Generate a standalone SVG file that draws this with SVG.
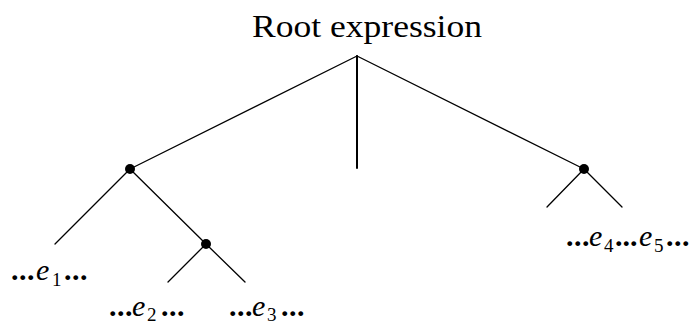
<svg xmlns="http://www.w3.org/2000/svg" width="698" height="324" viewBox="0 0 698 324">
<style>
.t{font-family:"Liberation Serif",serif;fill:#000;font-size:30px}
.d{font-weight:bold}
.e{font-style:italic}
.s{font-size:19px}
.ln{stroke:#000;stroke-width:1.3;fill:none;stroke-linecap:round}
.dot{fill:#000}
</style>
<rect width="698" height="324" fill="#fff"/>
<g id="connectors">
<line class="ln" x1="357" y1="56" x2="130" y2="169"/>
<line class="ln" x1="357" y1="56" x2="584" y2="169"/>
<line class="ln" x1="357" y1="56" x2="357" y2="168" style="stroke-width:2"/>
<line class="ln" x1="130" y1="169" x2="55" y2="244"/>
<line class="ln" x1="130" y1="169" x2="206" y2="244"/>
<line class="ln" x1="206" y1="244" x2="168" y2="282"/>
<line class="ln" x1="206" y1="244" x2="245" y2="282"/>
<line class="ln" x1="584" y1="169" x2="547" y2="207"/>
<line class="ln" x1="584" y1="169" x2="622" y2="207"/>
</g>
<g id="root">
<text class="t" x="252" y="37" style="font-size:31px" textLength="230" lengthAdjust="spacingAndGlyphs">Root expression</text>
</g>
<g id="node-left"><circle class="dot" cx="130" cy="169" r="5"/></g>
<g id="node-mid"><circle class="dot" cx="206" cy="244" r="5"/></g>
<g id="node-right"><circle class="dot" cx="584" cy="169" r="5"/></g>
<g id="label-e1">
<text class="t" y="280"><tspan class="d" x="11" letter-spacing="0.5">...</tspan><tspan class="e" x="36">e</tspan><tspan class="s" x="52" dy="6">1</tspan><tspan class="d" x="64" dy="-6" letter-spacing="0.5">...</tspan></text>
</g>
<g id="label-e2">
<text class="t" y="316"><tspan class="d" x="109" letter-spacing="0.5">...</tspan><tspan class="e" x="132">e</tspan><tspan class="s" x="147" dy="5">2</tspan><tspan class="d" x="161" dy="-5" letter-spacing="0.5">...</tspan></text>
</g>
<g id="label-e3">
<text class="t" y="316"><tspan class="d" x="229" letter-spacing="0.5">...</tspan><tspan class="e" x="252">e</tspan><tspan class="s" x="267" dy="5">3</tspan><tspan class="d" x="281" dy="-5" letter-spacing="0.5">...</tspan></text>
</g>
<g id="label-e45">
<text class="t" y="246"><tspan class="d" x="566" letter-spacing="0.5">...</tspan><tspan class="e" x="589">e</tspan><tspan class="s" x="604" dy="6">4</tspan><tspan class="d" x="615" dy="-6">...</tspan><tspan class="e" x="639">e</tspan><tspan class="s" x="654" dy="6">5</tspan><tspan class="d" x="666" dy="-6" letter-spacing="0.5">...</tspan></text>
</g>
</svg>
